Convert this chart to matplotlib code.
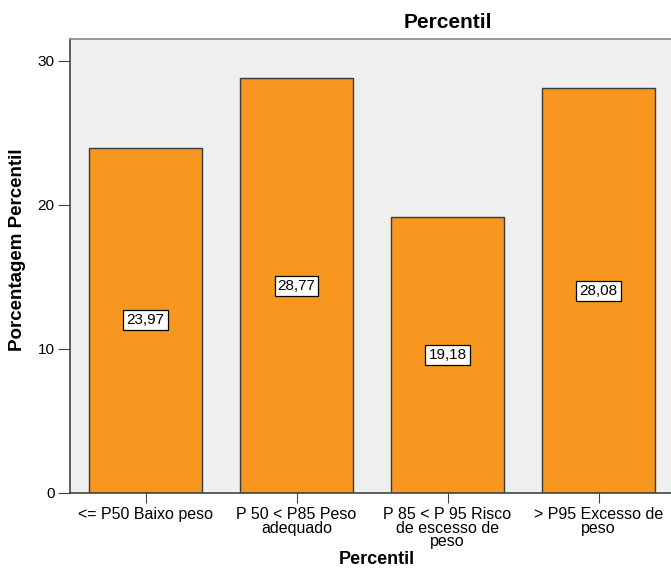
import numpy as np
from matplotlib import pyplot as plt

plt.rcParams['font.family'] = ['Liberation Sans', 'DejaVu Sans']

categorias = ['<= P50 Baixo peso', 'P 50 < P85 Peso\nadequado',
              'P 85 < P 95 Risco\nde escesso de\npeso', '> P95 Excesso de\npeso']
percentual = [23.97, 28.77, 19.18, 28.08]
yticks = [0, 10, 20, 30]

fig = plt.figure(figsize=(6.71, 5.68), dpi=100)
ax = fig.add_axes([70/671, 1 - 493/568, 604/671, 454/568])
ax.set_facecolor('#efefef')

x = np.arange(len(categorias))
ax.bar(x, percentual, width=0.75, color='#f7971f', edgecolor='#3a3a3a', linewidth=1.0, zorder=2)

for xi, v in zip(x, percentual):
    ax.text(xi, v / 2, f'{v:.2f}'.replace('.', ','), ha='center', va='center', fontsize=11,
            bbox=dict(boxstyle='square,pad=0.2', facecolor='white', edgecolor='black', linewidth=0.9),
            zorder=3)

ax.set_xlim(-0.5, len(categorias) - 0.5)
ax.set_ylim(0, 31.5)
ax.set_yticks(yticks)
ax.set_xticks(x)
ax.set_xticklabels(categorias, fontsize=11.5, linespacing=0.9)
ax.tick_params(axis='y', labelsize=11, length=9, color='#444444', pad=2)
ax.tick_params(axis='x', length=7, color='#444444', pad=3)

for side in ['left', 'bottom']:
    ax.spines[side].set_color('#444444')
    ax.spines[side].set_linewidth(1.2)
ax.spines['top'].set_color('#888888')
ax.spines['top'].set_linewidth(1.2)
ax.spines['right'].set_visible(False)

fig.text(18/671, 1 - 250/568, 'Porcentagem Percentil', ha='center', va='center', rotation=90,
         fontsize=13.5, fontweight='bold')
fig.text(377/671, 1 - 560/568, 'Percentil', ha='center', va='center', fontsize=13, fontweight='bold')
fig.text(448/671, 1 - 23/568, 'Percentil', ha='center', va='center', fontsize=15, fontweight='bold')

fig.savefig('out.png', dpi=100)
